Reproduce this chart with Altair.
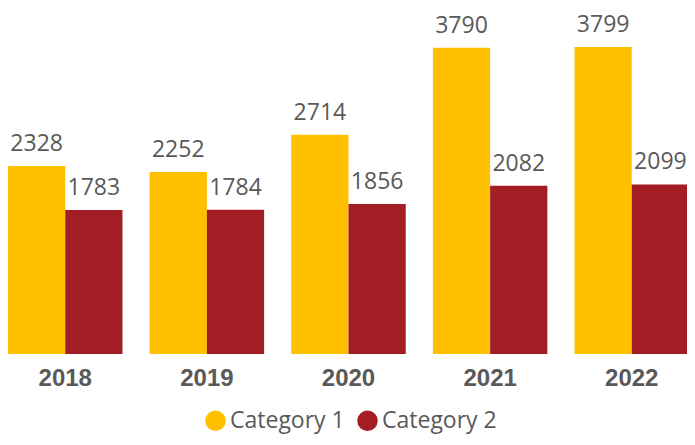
import altair as alt
import pandas as pd

years = ["2018", "2019", "2020", "2021", "2022"]
category_1 = [2328, 2252, 2714, 3790, 3799]
category_2 = [1783, 1784, 1856, 2082, 2099]
series_names = ["Category 1", "Category 2"]
series_colors = ["#FFC000", "#A21D24"]

rows = []
for i, y in enumerate(years):
    rows.append({"year": y, "category": series_names[0], "value": category_1[i]})
    rows.append({"year": y, "category": series_names[1], "value": category_2[i]})
df = pd.DataFrame(rows)

x_enc = alt.X(
    "year:N",
    sort=years,
    scale=alt.Scale(range=[0, 681], paddingInner=0.1916, paddingOuter=0),
    axis=alt.Axis(
        title=None,
        domain=False,
        ticks=False,
        tickSize=0,
        grid=False,
        labelAngle=0,
        labelFont="Liberation Sans",
        labelFontWeight="bold",
        labelFontSize=24,
        labelColor="#595959",
        labelPadding=12,
    ),
)
xoff_enc = alt.XOffset("category:N", sort=series_names, scale=alt.Scale(paddingInner=0, paddingOuter=0))
y_enc = alt.Y("value:Q", scale=alt.Scale(domain=[0, 4282], nice=False, zero=True), axis=None)

bars = alt.Chart(df).mark_bar().encode(
    x=x_enc,
    xOffset=xoff_enc,
    y=y_enc,
    color=alt.Color(
        "category:N",
        sort=series_names,
        scale=alt.Scale(domain=series_names, range=series_colors),
        legend=alt.Legend(
            title=None,
            orient="none",
            legendX=196,
            legendY=401,
            direction="horizontal",
            symbolType="circle",
            symbolSize=420,
            symbolStrokeWidth=0,
            symbolOpacity=1,
            labelFont="Open Sans",
            labelFontSize=23,
            labelColor="#595959",
            labelOffset=3,
            columnPadding=11,
        ),
    ),
)

labels = alt.Chart(df).mark_text(
    baseline="alphabetic",
    align="center",
    dy=-15,
    font="Open Sans",
    fontSize=23,
    color="#595959",
).encode(
    x=x_enc,
    xOffset=xoff_enc,
    y=y_enc,
    text=alt.Text("value:Q", format="d"),
)

chart = (
    alt.layer(bars, labels)
    .properties(
        width=679,
        height=346,
        background="white",
        autosize=alt.AutoSizeParams(type="none"),
        padding={"left": 0, "top": 0, "right": 0, "bottom": 83},
    )
    .configure_view(stroke=None, strokeWidth=0)
)

chart.save("out.html", embed_options={"renderer": "svg", "actions": False})
